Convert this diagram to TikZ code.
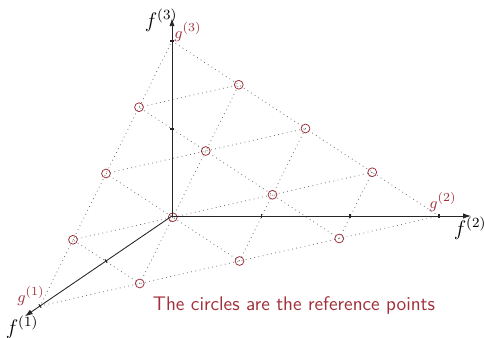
\documentclass[tikz,border=0pt]{standalone}
\usepackage{amsmath,amssymb}
\usepackage{tikz}
\usetikzlibrary{arrows.meta,calc}
\definecolor{refred}{RGB}{160,48,58}
\definecolor{dotgray}{RGB}{110,110,110}

\tikzset{
  dotline/.style={dotgray,dotted,line width=0.45pt},
  axis/.style={->,black!85,line width=0.5pt},
  axtick/.style={black!85,line width=0.6pt},
  refpt/.style={circle,draw=refred,inner sep=0pt,minimum size=5pt,line width=0.45pt},
  glabel/.style={text=refred,font=\fontsize{9.5}{11}\selectfont}
}

\begin{document}
\begin{tikzpicture}[>={Latex[length=4.5pt,width=3pt]},font=\fontsize{11.5}{13}\selectfont]
  \useasboundingbox (-3.44,-2.44) rectangle (6.26,4.32);
  % simplex corners
  \coordinate (O) at (0,0);
  \coordinate (g1) at (-2.64,-1.80);
  \coordinate (g2) at (5.34,0);
  \coordinate (g3) at (0,3.50);
  \coordinate (f1) at ($(O)!1.115!(g1)$);
  \coordinate (f2) at ($(O)!1.12!(g2)$);
  \coordinate (f3) at ($(O)!1.13!(g3)$);

  % reference points (4 divisions)
  \node[refpt] (r103) at (barycentric cs:g1=1,g2=0,g3=3) {};
  \node[refpt] (r013) at (barycentric cs:g1=0,g2=1,g3=3) {};
  \node[refpt] (r202) at (barycentric cs:g1=2,g2=0,g3=2) {};
  \node[refpt] (r112) at (barycentric cs:g1=1,g2=1,g3=2) {};
  \node[refpt] (r022) at (barycentric cs:g1=0,g2=2,g3=2) {};
  \node[refpt] (r301) at (barycentric cs:g1=3,g2=0,g3=1) {};
  \node[refpt] (r211) at (barycentric cs:g1=2,g2=1,g3=1) {};
  \node[refpt] (r121) at (barycentric cs:g1=1,g2=2,g3=1) {};
  \node[refpt] (r031) at (barycentric cs:g1=0,g2=3,g3=1) {};
  \node[refpt] (r310) at (barycentric cs:g1=3,g2=1,g3=0) {};
  \node[refpt] (r220) at (barycentric cs:g1=2,g2=2,g3=0) {};
  \node[refpt] (r130) at (barycentric cs:g1=1,g2=3,g3=0) {};

  % grid on the simplex
  \draw[dotline] (g1)--(g2)--(g3)--cycle;
  \draw[dotline] (r130.center)--(r103.center);
  \draw[dotline] (r220.center)--(r202.center);
  \draw[dotline] (r310.center)--(r301.center);
  \draw[dotline] (r310.center)--(r013.center);
  \draw[dotline] (r220.center)--(r022.center);
  \draw[dotline] (r130.center)--(r031.center);
  \draw[dotline] (r301.center)--(r031.center);
  \draw[dotline] (r202.center)--(r022.center);
  \draw[dotline] (r103.center)--(r013.center);

  % axes
  \draw[axis] (O)--(f1);
  \draw[axis] (O)--(f2);
  \draw[axis] (O)--(f3);
  \coordinate (t1) at ($(O)!0.5!(g1)$);
  \coordinate (t2a) at (1.79,0);
  \coordinate (t2b) at (3.56,0);
  \coordinate (t3) at (0,1.74);
  \draw[axtick] (g2) ++(0,0.04) -- ++(0,-0.08);
  \draw[axtick] (t2a) ++(0,0.04) -- ++(0,-0.08);
  \draw[axtick] (t2b) ++(0,0.04) -- ++(0,-0.08);
  \draw[axtick] (g3) ++(-0.04,0) -- ++(0.08,0);
  \draw[axtick] (t3) ++(-0.04,0) -- ++(0.08,0);
  \draw[axtick] (g1) ++(-0.022,0.033) -- ++(0.044,-0.066);
  \draw[axtick] (t1) ++(-0.022,0.033) -- ++(0.044,-0.066);

  % labels
  \node (lf1) at (-3.0,-2.22) {$f^{(1)}$};
  \node (lf2) at (5.96,-0.24) {$f^{(2)}$};
  \node (lf3) at (-0.22,3.92) {$f^{(3)}$};
  \node[glabel] (lg1) at (-2.82,-1.60) {$g^{(1)}$};
  \node[glabel] (lg2) at (5.42,0.28) {$g^{(2)}$};
  \node[glabel] (lg3) at (0.32,3.68) {$g^{(3)}$};
  \node[text=refred,font=\fontsize{11.2}{13}\sffamily] (note) at (2.44,-1.78) {The circles are the reference points};
\end{tikzpicture}
\end{document}
